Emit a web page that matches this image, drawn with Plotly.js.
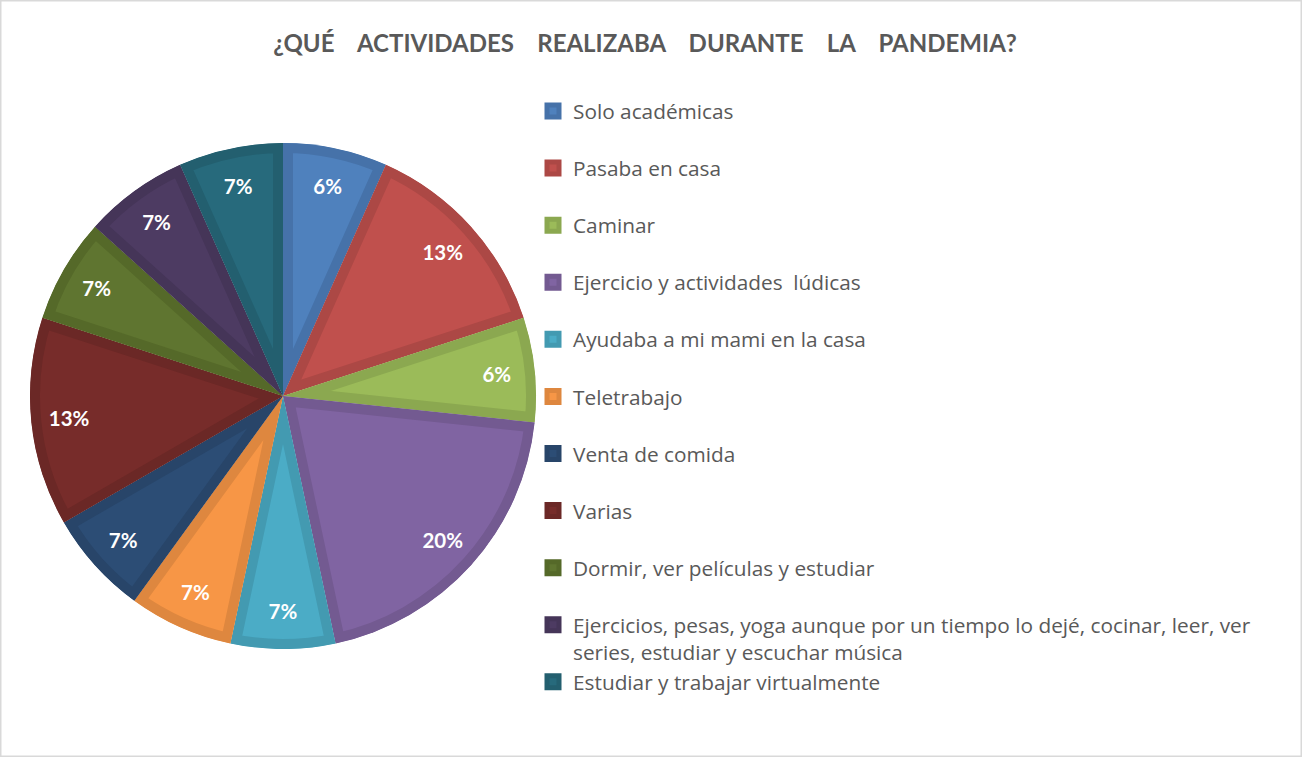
<!DOCTYPE html>
<html>
<head>
<meta charset="utf-8">
<script src="https://cdn.plot.ly/plotly-3.0.1.min.js"></script>
<style>
  html, body { margin: 0; padding: 0; background: #ffffff; }
  #chart { width: 1302px; height: 757px; }
</style>
</head>
<body>
<div id="chart"></div>
<script>
// ---- data ----
const categories = [
  "Solo académicas",
  "Pasaba en casa",
  "Caminar",
  "Ejercicio y actividades  lúdicas",
  "Ayudaba a mi mami en la casa",
  "Teletrabajo",
  "Venta de comida",
  "Varias",
  "Dormir, ver películas y estudiar",
  "Ejercicios, pesas, yoga aunque por un tiempo lo dejé, cocinar, leer, ver series, estudiar y escuchar música",
  "Estudiar y trabajar virtualmente"
];
// slice sizes (number of answers)
const counts = [1, 2, 1, 3, 1, 1, 1, 2, 1, 1, 1];
// percentage labels exactly as printed on the chart
const pctLabels = ["6%", "13%", "6%", "20%", "7%", "7%", "7%", "13%", "7%", "7%", "7%"];
// legend text as wrapped in the reference
const legendText = [
  "Solo académicas",
  "Pasaba en casa",
  "Caminar",
  "Ejercicio y actividades  lúdicas",
  "Ayudaba a mi mami en la casa",
  "Teletrabajo",
  "Venta de comida",
  "Varias",
  "Dormir, ver películas y estudiar",
  "Ejercicios, pesas, yoga aunque por un tiempo lo dejé, cocinar, leer, ver<br>series, estudiar y escuchar música",
  "Estudiar y trabajar virtualmente"
];
const fillColors = ["#4F81BD","#C0504D","#9BBB59","#8064A2","#4BACC6","#F79646",
                    "#2C4D75","#772C2A","#5F7530","#4D3B62","#276A7C"];
const bandColors = ["#4672A9","#AC4845","#8BA850","#735A91","#439AB1","#DE873F",
                    "#284569","#6B2826","#556929","#453558","#235F6F"];

const NB = "\u00a0";
const gap = NB + NB + NB + NB;
const titleText = ["¿QUÉ","ACTIVIDADES","REALIZABA","DURANTE","LA","PANDEMIA?"].join(gap);

// legend labels: pad single-line items to two lines so spacing matches
const legendLabels = legendText.map(t => t.indexOf("<br>") >= 0 ? t : t + "<br>" + NB);

const W = 1302, H = 757;
const pieDomain = { x: [30 / W, 536 / W], y: [1 - 649 / H, 1 - 143 / H] };

const pieTrace = {
  type: "pie",
  labels: legendLabels,
  values: counts,
  sort: false,
  direction: "clockwise",
  rotation: 0,
  marker: { colors: fillColors, line: { color: bandColors, width: 20 } },
  textinfo: "none",
  hoverinfo: "none",
  domain: pieDomain,
  showlegend: true
};

// transparent ring on top, only used to place the percentage labels near the rim
const labelTrace = {
  type: "pie",
  labels: categories,
  values: counts,
  text: pctLabels,
  sort: false,
  direction: "clockwise",
  rotation: 0,
  hole: 0.7,
  marker: { colors: fillColors.map(() => "rgba(0,0,0,0)"), line: { width: 0 } },
  textinfo: "text",
  textposition: "inside",
  insidetextorientation: "horizontal",
  textfont: { family: "Lato, 'DejaVu Sans', sans-serif", size: 20.5, color: "#ffffff", weight: "bold" },
  hoverinfo: "none",
  domain: pieDomain,
  showlegend: false
};

const layout = {
  width: W, height: H,
  margin: { l: 0, r: 0, t: 0, b: 0, autoexpand: false },
  paper_bgcolor: "#ffffff",
  plot_bgcolor: "#ffffff",
  font: { family: "Lato, 'DejaVu Sans', sans-serif", color: "#595959" },
  title: {
    text: titleText,
    font: { family: "Lato, 'DejaVu Sans', sans-serif", size: 24, color: "#595959", weight: "bold" },
    x: 645 / W, xanchor: "center", xref: "paper",
    y: 1 - 44 / H, yanchor: "middle", yref: "container"
  },
  legend: {
    x: 533 / W, xanchor: "left",
    y: 1 - 91 / H, yanchor: "top",
    font: { family: "'Open Sans', Lato, sans-serif", size: 20.8, color: "#595959" },
    valign: "top",
    bgcolor: "rgba(0,0,0,0)",
    traceorder: "normal"
  },
  shapes: [{
    type: "rect", xref: "paper", yref: "paper", x0: 0, x1: 1, y0: 0, y1: 1,
    line: { color: "#D9D9D9", width: 3 }, fillcolor: "rgba(0,0,0,0)", layer: "below"
  }]
};

Plotly.newPlot("chart", [pieTrace, labelTrace], layout, { staticPlot: true, displayModeBar: false }).then(gd => {
  // keep each slice's border band inside its own slice (inner bevel look)
  const ns = "http://www.w3.org/2000/svg";
  const svg = gd.querySelector("svg.main-svg");
  let defs = svg.querySelector("defs");
  if (!defs) { defs = document.createElementNS(ns, "defs"); svg.insertBefore(defs, svg.firstChild); }
  gd.querySelectorAll(".pielayer g.slice path.surface").forEach((p, i) => {
    const id = "sliceclip" + i;
    const cp = document.createElementNS(ns, "clipPath");
    cp.setAttribute("id", id);
    const cpp = document.createElementNS(ns, "path");
    cpp.setAttribute("d", p.getAttribute("d"));
    cp.appendChild(cpp);
    defs.appendChild(cp);
    p.setAttribute("clip-path", "url(#" + id + ")");
  });
});
</script>
</body>
</html>
